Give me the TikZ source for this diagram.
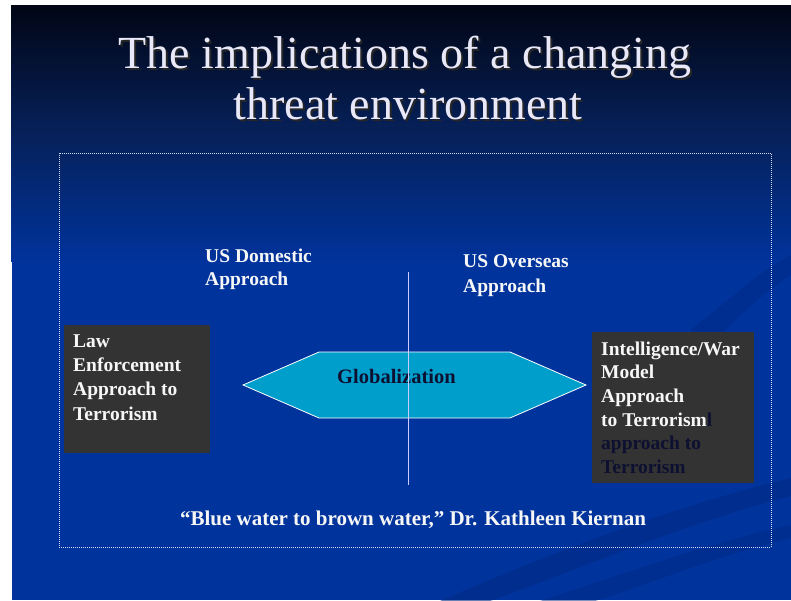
\documentclass[tikz,border=0pt]{standalone}
\usepackage{fontspec}
\setmainfont{Liberation Serif}
\usetikzlibrary{shadings}
\definecolor{slideblue}{HTML}{00339C}
\definecolor{slidetop}{HTML}{020616}
\definecolor{slidemid}{HTML}{06215A}
\definecolor{boxgray}{HTML}{333333}
\definecolor{hexfill}{HTML}{009ECB}
\definecolor{titlecol}{HTML}{E8E8F8}
\definecolor{darktext}{HTML}{0D1030}
\definecolor{bodywhite}{HTML}{F7F7F7}
\definecolor{swoosh}{HTML}{002A85}
\tikzset{
  bodytext/.style={anchor=base west, inner sep=0pt, text=bodywhite, font=\fontsize{19.5}{23.6}\selectfont\bfseries},
  titletext/.style={anchor=base, inner sep=0pt, text=titlecol, font=\fontsize{46}{52}\selectfont},
  shadowtext/.style={anchor=base, inner sep=0pt, text=black!85, font=\fontsize{46}{52}\selectfont},
  darkbox/.style={fill=boxgray, draw=none},
}
\begin{document}
\begin{tikzpicture}[x=1pt,y=-1pt]
\useasboundingbox (0,0) rectangle (791,601);
\fill[white] (0,0) rectangle (791,601);
% slide background
\fill[slideblue] (11,6) rectangle (791,252);
\fill[slideblue] (12,252) rectangle (791,600);
\shade[top color=slidetop, bottom color=slideblue, middle color=slidemid] (11,6) rectangle (791,262);
% faint swooshes
\fill[swoosh, opacity=0.6] (440,601) .. controls (570,545) and (680,505) .. (791,478) -- (791,496) .. controls (680,525) and (590,565) .. (490,601) -- cycle;
\fill[swoosh, opacity=0.5] (540,601) .. controls (650,565) and (720,540) .. (791,525) -- (791,538) .. controls (720,555) and (660,580) .. (595,601) -- cycle;
\fill[swoosh, opacity=0.5] (690,330) .. controls (730,300) and (760,270) .. (791,255) -- (791,275) .. controls (760,295) and (735,320) .. (710,345) -- cycle;
% title
\node[shadowtext] (t1s) at (407,71) {The implications of a changing};
\node[titletext] (t1) at (405,69) {The implications of a changing};
\node[shadowtext] (t2s) at (410,122) {threat environment};
\node[titletext] (t2) at (408,120) {threat environment};
% dotted frame
\draw[white!85!blue, line width=0.8pt, dash pattern=on 1pt off 1pt] (59,153) rectangle (771,547);
% boxes
\fill[darkbox] (64,325) rectangle (210,453);
\fill[darkbox] (592,332) rectangle (754,483);
% hexagon
\coordinate (hl) at (243,385);
\coordinate (htl) at (319,352);
\coordinate (htr) at (510,352);
\coordinate (hr) at (586,385);
\coordinate (hbr) at (510,418);
\coordinate (hbl) at (319,418);
\draw[fill=hexfill, draw=white, line width=0.8pt] (hl) -- (htl) -- (htr) -- (hr) -- (hbr) -- (hbl) -- cycle;
\node[anchor=base west, inner sep=0pt, text=darktext, font=\fontsize{20.5}{24}\selectfont\bfseries] (glob) at (337,383) {Globalization};
% vertical line
\coordinate (vtop) at (408,272);
\coordinate (vbot) at (408,485);
\draw[white!80!blue, line width=0.9pt] (vtop) -- (vbot);
% left box text
\node[bodytext] (l1) at (73,347) {Law};
\node[bodytext] (l2) at (73,371) {Enforcement};
\node[bodytext] (l3) at (73,395.5) {Approach to};
\node[bodytext] (l4) at (73,420) {Terrorism};
% right box text
\node[bodytext] (r1) at (601,355) {Intelligence/War};
\node[bodytext] (r2) at (601,378.5) {Model};
\node[bodytext] (r3) at (601,402.5) {Approach};
\node[bodytext] (r4) at (601,426) {to Terrorism{\color{darktext}l}};
\node[bodytext, text=darktext] (r5) at (601,449.5) {approach to};
\node[bodytext, text=darktext] (r6) at (601,473) {Terrorism};
% approach labels
\node[bodytext] (d1) at (205,262) {US Domestic};
\node[bodytext] (d2) at (205,285) {Approach};
\node[bodytext] (o1) at (463,268) {US Overseas};
\node[bodytext] (o2) at (463,292.5) {Approach};
% quote
\node[anchor=base, inner sep=0pt, text=bodywhite, font=\fontsize{21}{24}\selectfont\bfseries] (quote) at (413,525) {“Blue water to brown water,” Dr. Kathleen Kiernan};
\end{tikzpicture}
\end{document}
